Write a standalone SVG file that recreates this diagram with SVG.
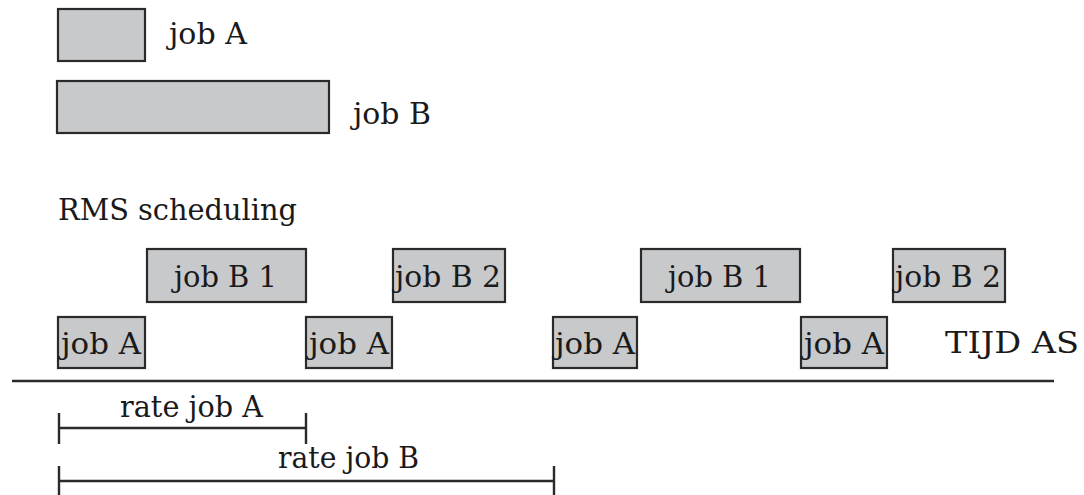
<svg xmlns="http://www.w3.org/2000/svg" width="1084" height="495" viewBox="0 0 1084 495">
<style>
.box{fill:#c8c9cb;stroke:#2a2a2a;stroke-width:2.2}
.t{font-family:"DejaVu Serif","Liberation Serif",serif;font-size:29px;fill:#1a1a1a}
.ln{stroke:#2a2a2a;stroke-width:2.4;fill:none}
</style>
<rect width="1084" height="495" fill="#fff"/>
<g id="legend-a"><rect class="box" x="58" y="9" width="87" height="52"/><text class="t" x="169" y="44" textLength="78" lengthAdjust="spacingAndGlyphs">job A</text></g>
<g id="legend-b"><rect class="box" x="57" y="81" width="272" height="52"/><text class="t" x="353" y="124" textLength="78" lengthAdjust="spacingAndGlyphs">job B</text></g>
<text id="title" class="t" x="58" y="220" textLength="239" lengthAdjust="spacingAndGlyphs">RMS scheduling</text>
<g id="b1-1"><rect class="box" x="147" y="249" width="159" height="53"/><text class="t" x="174" y="287" textLength="103" lengthAdjust="spacingAndGlyphs">job B 1</text></g>
<g id="b2-1"><rect class="box" x="393" y="249" width="112" height="53"/><text class="t" x="395" y="287" textLength="106" lengthAdjust="spacingAndGlyphs">job B 2</text></g>
<g id="b1-2"><rect class="box" x="641" y="249" width="159" height="53"/><text class="t" x="668" y="287" textLength="103" lengthAdjust="spacingAndGlyphs">job B 1</text></g>
<g id="b2-2"><rect class="box" x="893" y="249" width="112" height="53"/><text class="t" x="895" y="287" textLength="106" lengthAdjust="spacingAndGlyphs">job B 2</text></g>
<g id="a-1"><rect class="box" x="58" y="317" width="87" height="51"/><text class="t" x="61" y="354" textLength="80" lengthAdjust="spacingAndGlyphs">job A</text></g>
<g id="a-2"><rect class="box" x="306" y="317" width="86" height="51"/><text class="t" x="309" y="354" textLength="80" lengthAdjust="spacingAndGlyphs">job A</text></g>
<g id="a-3"><rect class="box" x="553" y="317" width="84" height="51"/><text class="t" x="555" y="354" textLength="80" lengthAdjust="spacingAndGlyphs">job A</text></g>
<g id="a-4"><rect class="box" x="801" y="317" width="86" height="51"/><text class="t" x="804" y="354" textLength="80" lengthAdjust="spacingAndGlyphs">job A</text></g>
<text id="axis-label" class="t" x="945" y="353" textLength="134" lengthAdjust="spacingAndGlyphs">TIJD AS</text>
<g id="connectors">
<line class="ln" x1="12" y1="381" x2="1054" y2="381"/>
<path class="ln" d="M59 413V444M59 428H306M306 413V444"/>
<path class="ln" d="M59 466V500M59 481H554M554 466V500"/>
</g>
<text class="t" x="120" y="417" textLength="143" lengthAdjust="spacingAndGlyphs">rate job A</text>
<text class="t" x="278" y="468" textLength="141" lengthAdjust="spacingAndGlyphs">rate job B</text>
</svg>
